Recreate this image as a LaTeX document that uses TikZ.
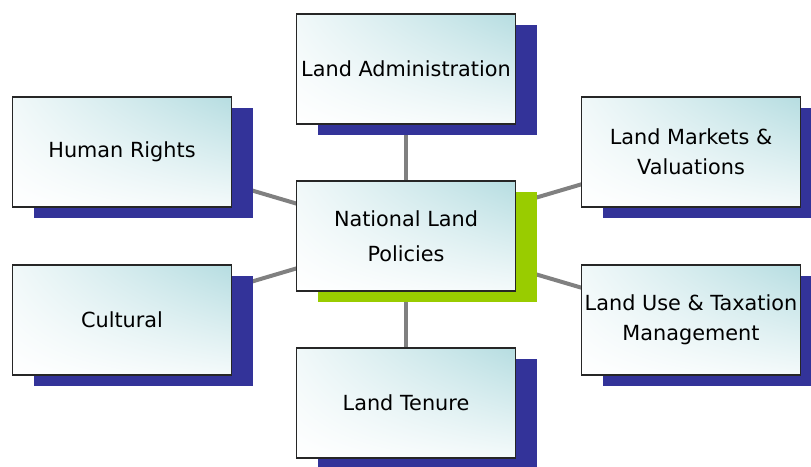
\documentclass[tikz,border=0pt]{standalone}
\usepackage{fontspec}
\setmainfont{DejaVu Sans}
\usetikzlibrary{shadows,backgrounds,shadings}
\definecolor{shblue}{RGB}{51,51,153}
\definecolor{shgreen}{RGB}{153,204,0}
\definecolor{tealc}{RGB}{182,221,225}
\definecolor{linkgray}{RGB}{128,128,128}
\tikzset{
  box/.style={draw=black!85, line width=1.2pt, minimum width=219pt, minimum height=110pt,
    inner sep=0pt, align=center, text=black,
    font=\fontsize{20.8}{30}\selectfont,
    upper left=tealc!20!white, upper right=tealc, lower left=white, lower right=tealc!15!white},
  blueshadow/.style={general shadow={fill=shblue, shadow xshift=21pt, shadow yshift=-11pt}},
  greenshadow/.style={general shadow={fill=shgreen, shadow xshift=21pt, shadow yshift=-11pt}},
  link/.style={draw=linkgray, line width=4pt}
}
\begin{document}
\begin{tikzpicture}[x=1pt,y=-1pt]
\useasboundingbox (0,0) rectangle (811,466);
\clip (0,0) rectangle (811,466);
\node[box,blueshadow] (adm) at (406,69) {Land Administration};
\node[box,blueshadow] (hum) at (122,152) {Human Rights};
\node[box,blueshadow] (cul) at (122,320) {Cultural};
\node[box,blueshadow] (mkt) at (691,152) {Land Markets \&\\Valuations};
\node[box,blueshadow] (use) at (691,320) {Land Use \& Taxation\\Management};
\node[box,blueshadow] (ten) at (406,403) {Land Tenure};
\node[box,greenshadow,font=\fontsize{20.8}{35}\selectfont] (nat) at (406,236) {National Land\\Policies};
\begin{scope}[on background layer]
\draw[link] (nat.center) -- (adm.center);
\draw[link] (nat.center) -- (hum.center);
\draw[link] (nat.center) -- (cul.center);
\draw[link] (nat.center) -- (mkt.center);
\draw[link] (nat.center) -- (use.center);
\draw[link] (nat.center) -- (ten.center);
\end{scope}
\end{tikzpicture}
\end{document}
